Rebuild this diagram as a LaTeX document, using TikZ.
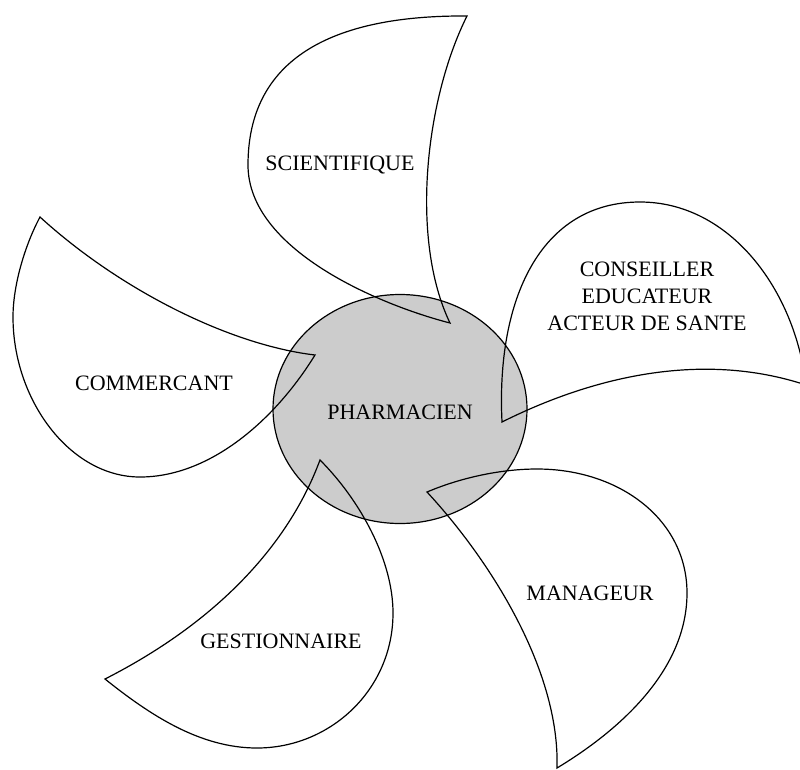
\documentclass[tikz,border=0pt]{standalone}
\usepackage{fontspec}
\setmainfont{Liberation Serif}
\usetikzlibrary{shapes.geometric}
\definecolor{hubgray}{RGB}{204,204,204}
\tikzset{
  petal/.style={draw=black, line width=1.2pt, line join=miter},
  label/.style={font=\fontsize{22}{27}\selectfont, align=center, inner sep=0pt, text=black},
  hub/.style={ellipse, draw=black, line width=1.2pt, fill=hubgray, minimum width=254pt, minimum height=229pt, inner sep=0pt}
}
\begin{document}
\begin{tikzpicture}[x=1pt, y=-1pt]
\useasboundingbox (0,0) rectangle (800,769);
\fill[white] (0,0) rectangle (800,769);
\clip (0,0) rectangle (800,769);

% central hub
\node[hub] (hub) at (400,409) {};

% SCIENTIFIQUE petal
\draw[petal] (467,16) .. controls (425,100) and (410,240) .. (450,323)
  .. controls (380,305) and (248,250) .. (248,165)
  .. controls (248,60) and (330,15) .. cycle;

% COMMERCANT petal
\draw[petal] (40,217) .. controls (120,290) and (230,345) .. (315,355)
  .. controls (275,420) and (210,477) .. (140,477)
  .. controls (70,477) and (13,400) .. (13,317)
  .. controls (13,285) and (25,245) .. cycle;

% CONSEILLER petal
\draw[petal] (502,422) .. controls (590,378) and (700,350) .. (806,385)
  .. controls (795,290) and (730,202) .. (640,202)
  .. controls (540,202) and (496,300) .. cycle;

% MANAGEUR petal
\draw[petal] (427,492) .. controls (490,560) and (560,670) .. (557,768)
  .. controls (620,730) and (687,670) .. (687,593)
  .. controls (687,520) and (620,469) .. (537,469)
  .. controls (500,469) and (460,478) .. cycle;

% GESTIONNAIRE petal
\draw[petal] (320,460) .. controls (305,500) and (260,600) .. (105,679)
  .. controls (150,715) and (200,748) .. (257,748)
  .. controls (330,748) and (393,690) .. (393,613)
  .. controls (393,560) and (360,500) .. cycle;

% labels
\node[label] (lsci) at (340,165) {SCIENTIFIQUE};
\node[label] (lcom) at (154,383) {COMMERCANT};
\node[label] (lcon) at (647,296) {CONSEILLER\\EDUCATEUR\\ACTEUR DE SANTE};
\node[label] (lpha) at (400,412) {PHARMACIEN};
\node[label] (lman) at (590,593) {MANAGEUR};
\node[label] (lges) at (281,641) {GESTIONNAIRE};
\end{tikzpicture}
\end{document}
